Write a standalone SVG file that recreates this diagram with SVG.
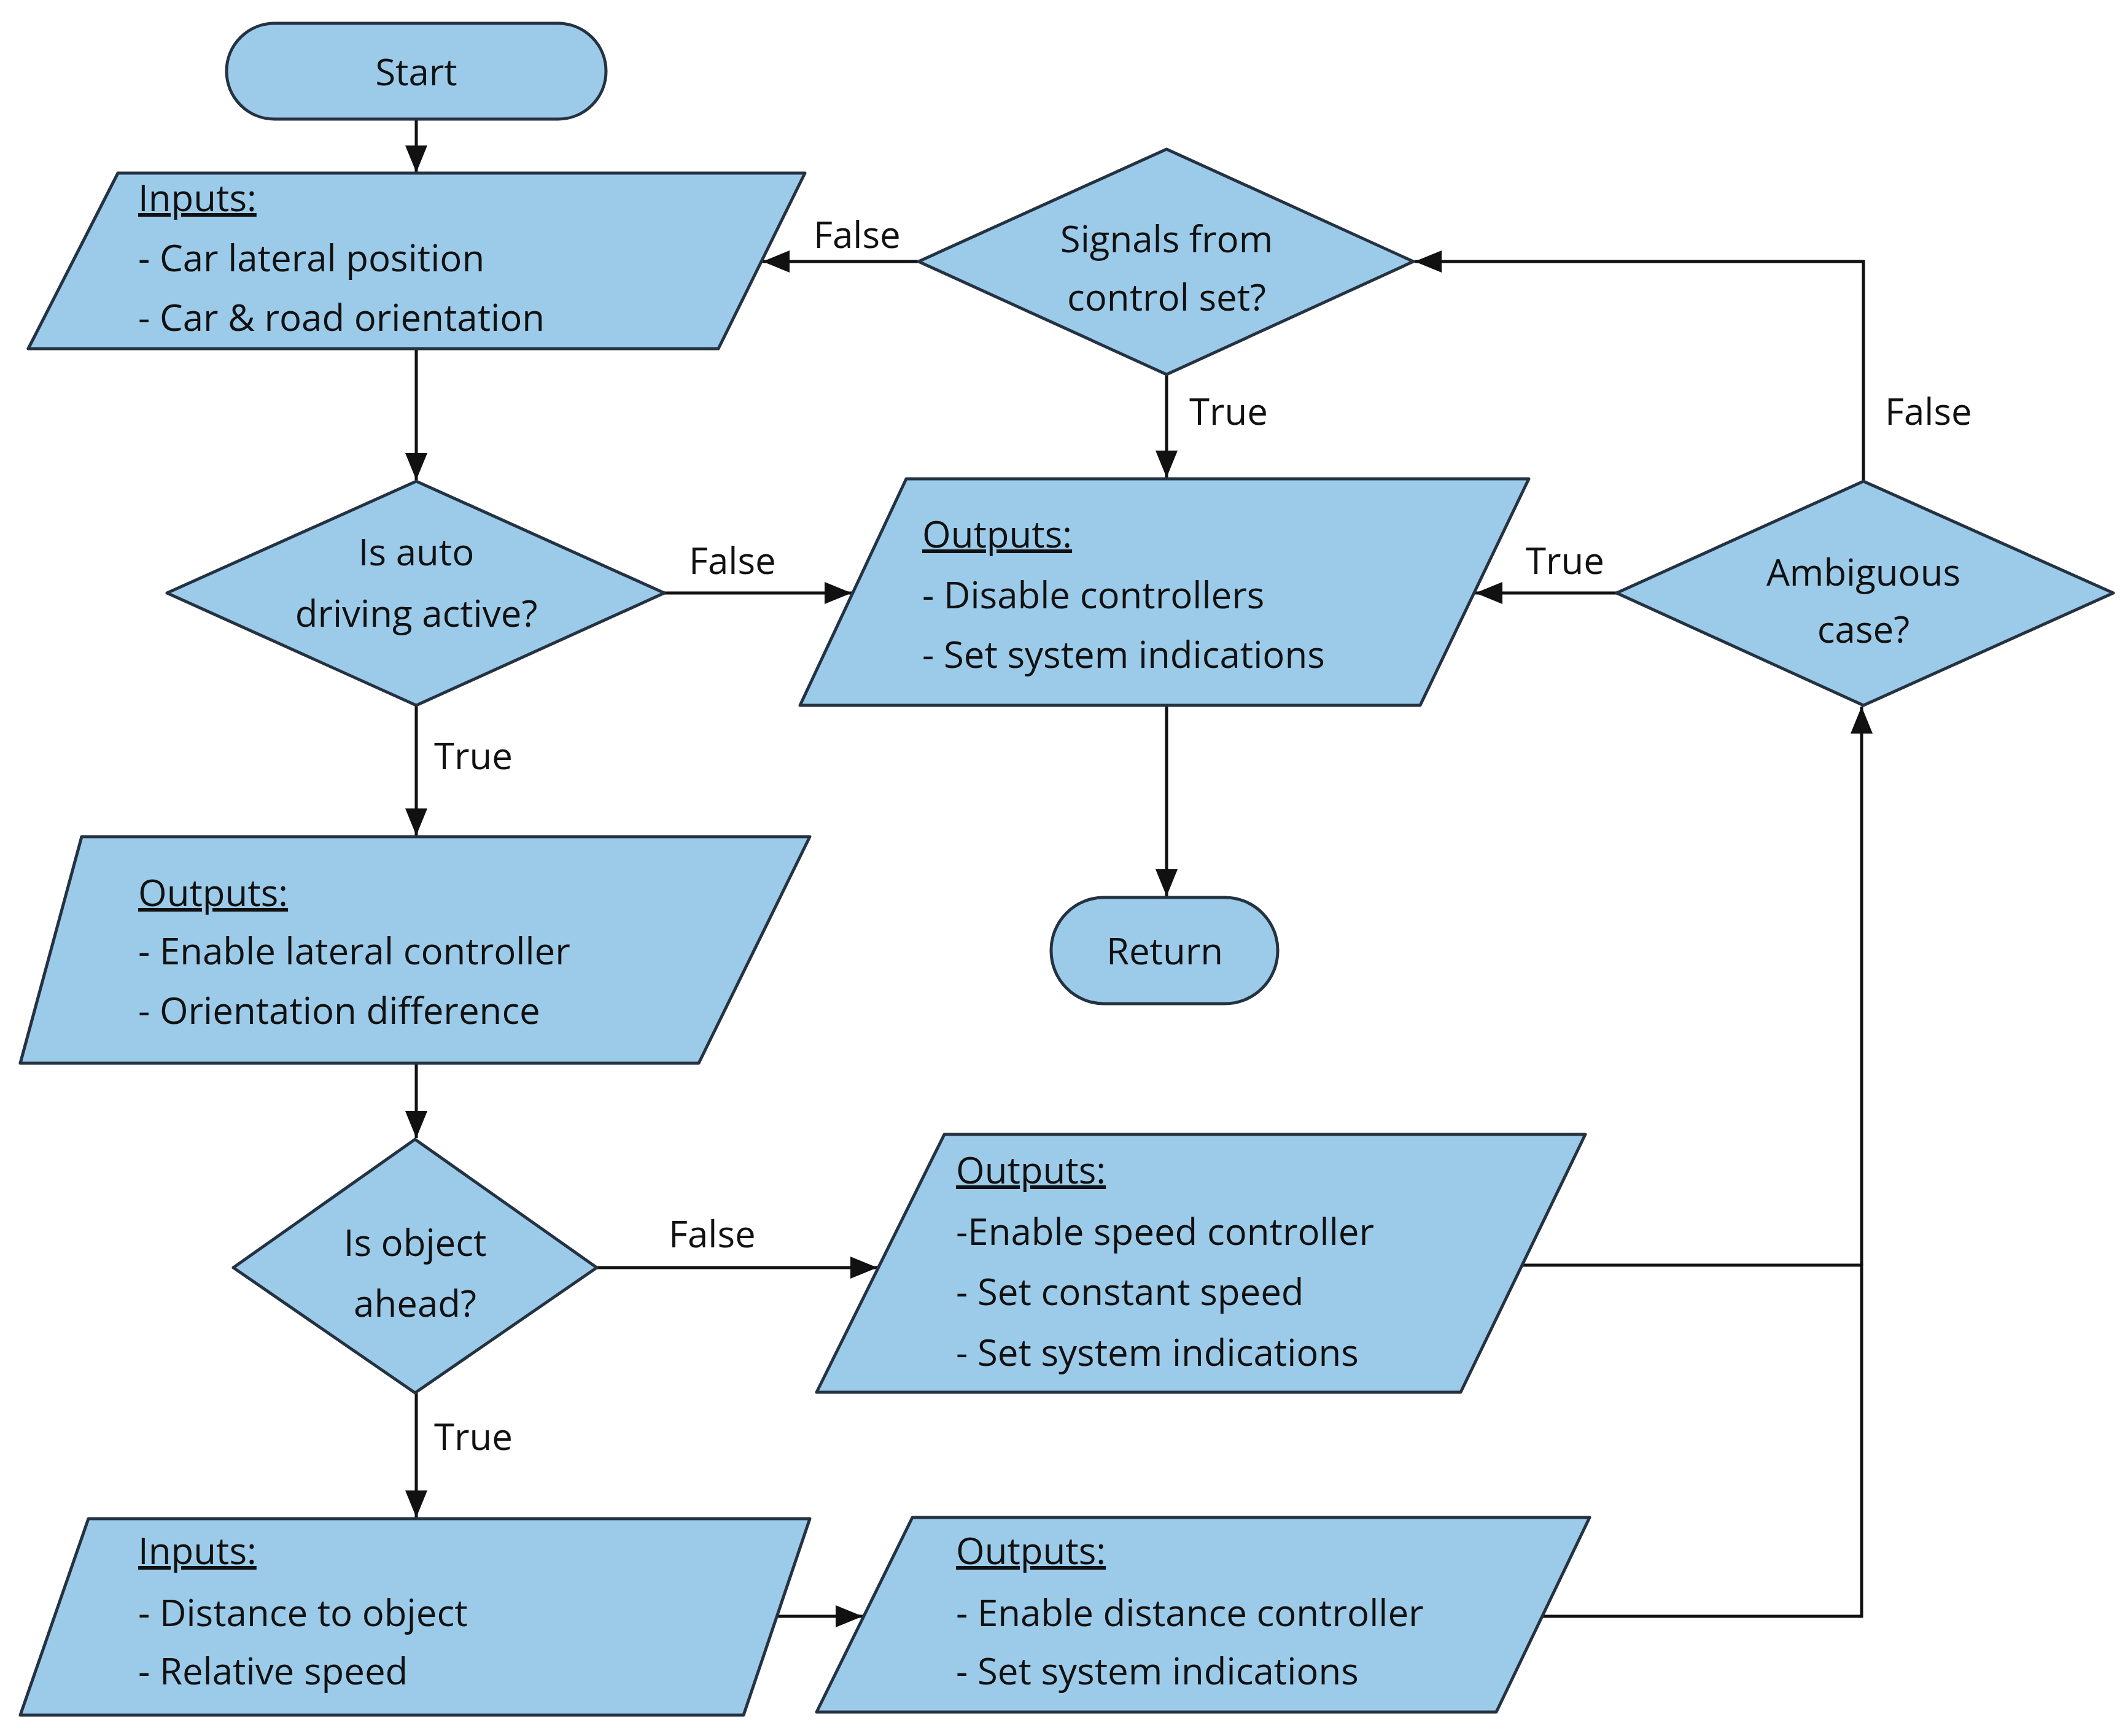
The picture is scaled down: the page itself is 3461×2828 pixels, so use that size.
<svg xmlns="http://www.w3.org/2000/svg" width="3461" height="2828" viewBox="0 0 3461 2828">
<style>
.s{fill:#9ccbea;stroke:#253241;stroke-width:5;stroke-linejoin:round}
.t{font-family:"Open Sans","Liberation Sans",sans-serif;font-size:60px;fill:#111}
.c{text-anchor:middle}
.u{text-decoration:underline}
.l{fill:none;stroke:#111;stroke-width:5}
</style>
<defs><marker id="a" viewBox="0 0 10 10" refX="10" refY="5" markerWidth="9" markerHeight="8" markerUnits="userSpaceOnUse" orient="auto" style="overflow:visible"><path d="M0,0L10,5L0,10Z" fill="#111" transform="scale(4.5)" /></marker>
<marker id="m" viewBox="0 0 44 36" refX="44" refY="18" markerWidth="44" markerHeight="36" markerUnits="userSpaceOnUse" orient="auto"><path d="M0,0L44,18L0,36Z" fill="#111"/></marker></defs>
<rect width="3461" height="2828" fill="#fff"/>
<g id="connectors">
<path class="l" marker-end="url(#m)" d="M678,194V281"/>
<path class="l" marker-end="url(#m)" d="M678,570V782"/>
<path class="l" marker-end="url(#m)" d="M678,1149V1361"/>
<path class="l" marker-end="url(#m)" d="M1082,966H1387"/>
<path class="l" marker-end="url(#m)" d="M678,1732V1854"/>
<path class="l" marker-end="url(#m)" d="M678,2269V2472"/>
<path class="l" marker-end="url(#m)" d="M972,2065H1429"/>
<path class="l" marker-end="url(#m)" d="M1265,2633H1405"/>
<path class="l" d="M2512,2633H3032V2061H2479"/>
<path class="l" marker-end="url(#m)" d="M3032,2061V1151"/>
<path class="l" marker-end="url(#m)" d="M2633,966H2403"/>
<path class="l" marker-end="url(#m)" d="M3035,784V426H2304"/>
<path class="l" marker-end="url(#m)" d="M1496,426H1242"/>
<path class="l" marker-end="url(#m)" d="M1900,610V778"/>
<path class="l" marker-end="url(#m)" d="M1900,1149V1460"/>
<text class="t" x="707" y="1253">True</text>
<text class="t" x="1122" y="935">False</text>
<text class="t" x="707" y="2362">True</text>
<text class="t" x="1089" y="2032">False</text>
<text class="t" x="2485" y="935">True</text>
<text class="t" x="3070" y="692">False</text>
<text class="t" x="1325" y="404">False</text>
<text class="t" x="1937" y="692">True</text>
</g>
<g id="start"><rect class="s" x="369" y="38" width="618" height="156" rx="78"/><text class="t c" x="678" y="139">Start</text></g>
<g id="inputs1"><path class="s" d="M192,282H1311L1170,568H46Z"/>
<text class="t" x="225" y="344"><tspan class="u">Inputs:</tspan><tspan x="225" dy="98">- Car lateral position</tspan><tspan x="225" dy="97">- Car &amp; road orientation</tspan></text></g>
<g id="signals"><path class="s" d="M1900,243L2302,426L1900,610L1496,426Z"/>
<text class="t c" x="1900" y="411">Signals from<tspan x="1900" dy="95">control set?</tspan></text></g>
<g id="auto"><path class="s" d="M678,784L1082,966L678,1149L272,966Z"/>
<text class="t c" x="678" y="921">Is auto<tspan x="678" dy="100">driving active?</tspan></text></g>
<g id="disable"><path class="s" d="M1476,780H2490L2313,1149H1303Z"/>
<text class="t" x="1502" y="892"><tspan class="u">Outputs:</tspan><tspan x="1502" dy="99">- Disable controllers</tspan><tspan x="1502" dy="97">- Set system indications</tspan></text></g>
<g id="ambiguous"><path class="s" d="M3035,784L3442,966L3035,1149L2633,966Z"/>
<text class="t c" x="3035" y="954">Ambiguous<tspan x="3035" dy="93">case?</tspan></text></g>
<g id="return"><rect class="s" x="1712" y="1462" width="369" height="173" rx="86"/><text class="t c" x="1897" y="1571">Return</text></g>
<g id="outputs1"><path class="s" d="M133,1363H1319L1138,1732H33Z"/>
<text class="t" x="225" y="1476"><tspan class="u">Outputs:</tspan><tspan x="225" dy="95">- Enable lateral controller</tspan><tspan x="225" dy="97">- Orientation difference</tspan></text></g>
<g id="object"><path class="s" d="M676,1856L972,2065L676,2269L380,2065Z"/>
<text class="t c" x="676" y="2046">Is object<tspan x="676" dy="99">ahead?</tspan></text></g>
<g id="speed"><path class="s" d="M1538,1848H2582L2379,2268H1330Z"/>
<text class="t" x="1557" y="1928"><tspan class="u">Outputs:</tspan><tspan x="1557" dy="100">-Enable speed controller</tspan><tspan x="1557" dy="98">- Set constant speed</tspan><tspan x="1557" dy="99">- Set system indications</tspan></text></g>
<g id="inputs2"><path class="s" d="M144,2474H1319L1211,2794H33Z"/>
<text class="t" x="225" y="2548"><tspan class="u">Inputs:</tspan><tspan x="225" dy="101">- Distance to object</tspan><tspan x="225" dy="95">- Relative speed</tspan></text></g>
<g id="distance"><path class="s" d="M1486,2472H2589L2437,2789H1330Z"/>
<text class="t" x="1557" y="2548"><tspan class="u">Outputs:</tspan><tspan x="1557" dy="101">- Enable distance controller</tspan><tspan x="1557" dy="95">- Set system indications</tspan></text></g>
</svg>
